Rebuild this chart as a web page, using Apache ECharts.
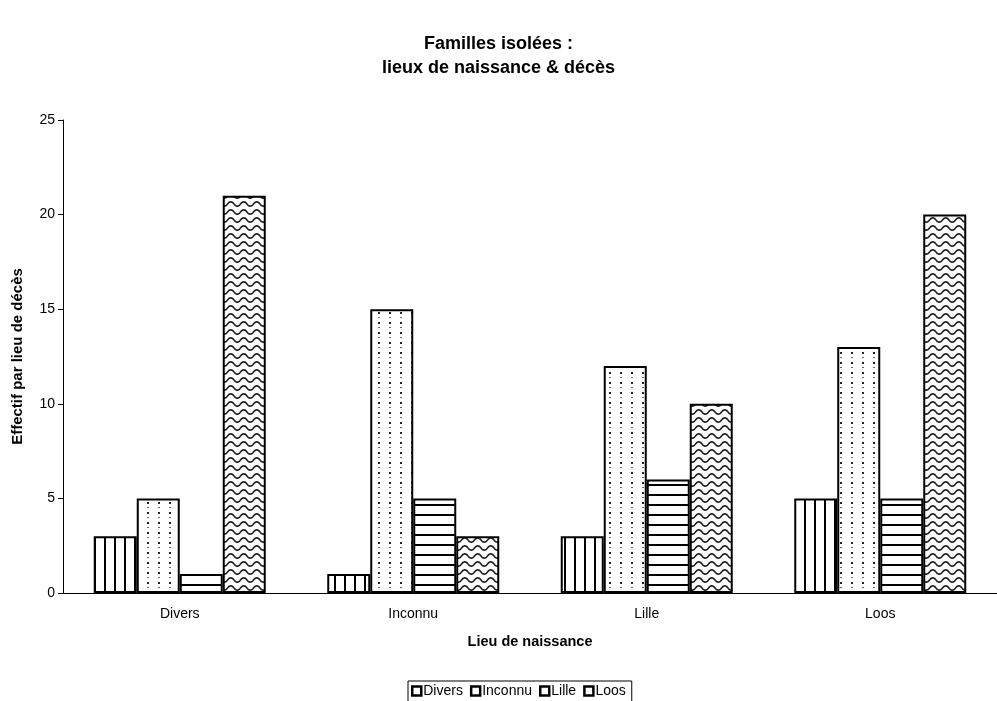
<!DOCTYPE html>
<html><head><meta charset="utf-8">
<script src="https://cdn.jsdelivr.net/npm/echarts@6/dist/echarts.min.js"></script>
<style>html,body{margin:0;padding:0;background:#fff}#c{width:997px;height:701px}</style>
</head><body><div id="c"></div>
<script>
const categories = ['Divers', 'Inconnu', 'Lille', 'Loos'];
const seriesNames = ['Divers', 'Inconnu', 'Lille', 'Loos'];
const valDivers = [3, 1, 3, 5];
const valInconnu = [5, 15, 12, 13];
const valLille = [1, 5, 6, 5];
const valLoos = [21, 3, 10, 20];
const yTicks = [0, 5, 10, 15, 20, 25];

function tile(w, h, draw) {
  const c = document.createElement('canvas');
  c.width = w; c.height = h;
  const g = c.getContext('2d');
  g.fillStyle = '#fff'; g.fillRect(0, 0, w, h);
  draw(g);
  return { image: c, repeat: 'repeat' };
}
const patVert = tile(10, 8, g => { g.fillStyle = '#000'; g.fillRect(4, 0, 2, 8); });
const patDots = tile(11, 10, g => {
  g.fillStyle = '#222'; g.fillRect(4, 2, 2, 2);
  g.fillStyle = '#666'; g.fillRect(4, 7, 2, 1);
});
const patHor = tile(8, 10, g => { g.fillStyle = '#000'; g.fillRect(0, 4, 8, 2); });
const patWave = tile(13, 8, g => {
  g.strokeStyle = '#222'; g.lineWidth = 1.7;
  g.beginPath();
  for (let x = -1; x <= 14; x += 0.5) {
    const y = 4 + 2.2 * Math.sin((x / 13) * 2 * Math.PI);
    if (x === -1) g.moveTo(x, y); else g.lineTo(x, y);
  }
  g.stroke();
});
const pats = [patVert, patDots, patHor, patWave];
const vals = [valDivers, valInconnu, valLille, valLoos];
const FF = 'Liberation Sans, Arial, sans-serif';

const chart = echarts.init(document.getElementById('c'));
chart.setOption({
  animation: false,
  backgroundColor: '#fff',
  title: {
    text: 'Familles isolées :\nlieux de naissance & décès',
    left: 'center', top: 27,
    textStyle: { fontFamily: FF, fontSize: 18, fontWeight: 'bold', color: '#000', lineHeight: 24 }
  },
  legend: {
    left: 408, top: 681,
    data: seriesNames.map(n => ({ name: n })),
    icon: 'rect', itemWidth: 9, itemHeight: 9, itemGap: 7,
    itemStyle: { color: '#fff', borderColor: '#000', borderWidth: 2.5 },
    textStyle: { fontFamily: FF, fontSize: 14, color: '#000', padding: [0, 0, 0, -3] },
    borderColor: '#000', borderWidth: 1, padding: [3, 6, 6, 3]
  },
  grid: { left: 63, top: 120, width: 942, height: 473, containLabel: false },
  xAxis: {
    type: 'category', data: categories,
    name: 'Lieu de naissance', nameLocation: 'middle', nameGap: 41,
    nameTextStyle: { fontFamily: FF, fontSize: 14.5, fontWeight: 'bold', color: '#000' },
    axisLine: { lineStyle: { color: '#000', width: 1 } },
    axisTick: { length: 5, lineStyle: { color: '#000' } },
    axisLabel: { fontFamily: FF, fontSize: 14, color: '#000', margin: 14 }
  },
  yAxis: {
    type: 'value', min: yTicks[0], max: yTicks[yTicks.length - 1], interval: 5,
    name: 'Effectif par lieu de décès', nameLocation: 'middle', nameGap: 38,
    nameTextStyle: { fontFamily: FF, fontSize: 15, fontWeight: 'bold', color: '#000' },
    axisLine: { show: true, lineStyle: { color: '#000', width: 1 } },
    axisTick: { show: true, length: 5, lineStyle: { color: '#000' } },
    splitLine: { show: false },
    axisLabel: { fontFamily: FF, fontSize: 14, color: '#000', margin: 8 }
  },
  series: seriesNames.map((n, i) => ({
    name: n, type: 'bar', data: vals[i],
    barWidth: 43, barGap: '0%',
    itemStyle: { color: pats[i], borderColor: '#000', borderWidth: 2 }
  }))
});
</script></body></html>
